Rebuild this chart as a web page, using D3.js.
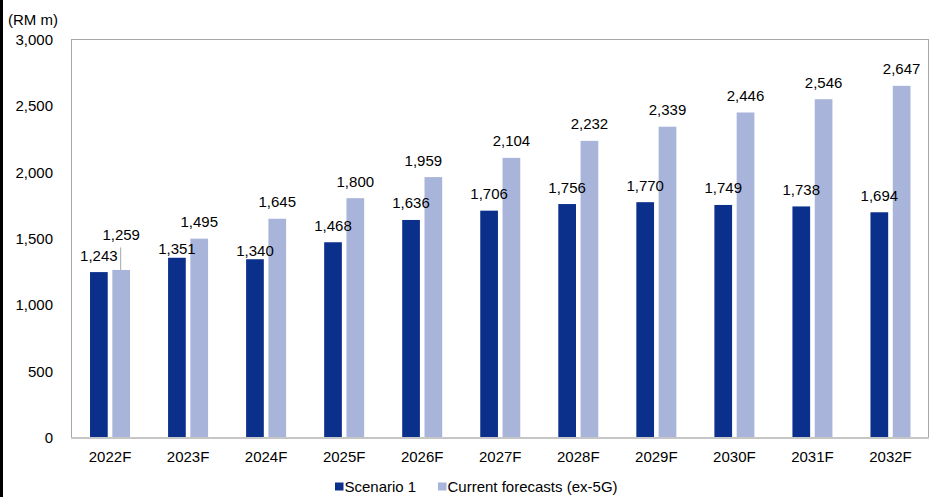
<!DOCTYPE html>
<html>
<head>
<meta charset="utf-8">
<script src="https://cdn.jsdelivr.net/npm/d3@7"></script>
<style>
  html, body { margin: 0; padding: 0; background: #fff; }
  svg { display: block; font-family: "Liberation Sans", Arial, sans-serif; }
</style>
</head>
<body>
<svg id="chart" width="938" height="497"></svg>
<script>
// ---- data ----
const categories = ["2022F","2023F","2024F","2025F","2026F","2027F","2028F","2029F","2030F","2031F","2032F"];
const scenario1 = [1243, 1351, 1340, 1468, 1636, 1706, 1756, 1770, 1749, 1738, 1694];
const currentForecasts = [1259, 1495, 1645, 1800, 1959, 2104, 2232, 2339, 2446, 2546, 2647];
const yTicks = [0, 500, 1000, 1500, 2000, 2500, 3000];
const seriesNames = ["Scenario 1", "Current forecasts (ex-5G)"];
const unitLabel = "(RM m)";

// ---- layout / style ----
const colors = ["#0b308c", "#a8b4da"];
const plot = { left: 71, right: 928, top: 39, bottom: 437 };
const barW = 17.7, barGap = 4.6;
const fontSize = 15;
// manual label adjustments (layout only): [series][index] -> {dx, dy}
const labelAdjust = {
  "0-1": { dy: 8 }, "0-2": { dy: 8 },
  "1-0": { dy: -18, leader: true },
  "1-4": { dx: -10 }
};

const svg = d3.select("#chart");
svg.append("rect").attr("x", 0).attr("y", 0).attr("width", 3).attr("height", 497).attr("fill", "#000");

const x = d3.scaleBand().domain(categories).range([plot.left, plot.right + 1.5]).paddingInner(0).paddingOuter(0);
const y = d3.scaleLinear().domain([0, 3000]).range([plot.bottom, plot.top]);

// frame
svg.append("rect")
  .attr("x", plot.left + 0.5).attr("y", plot.top + 0.5)
  .attr("width", plot.right - plot.left).attr("height", plot.bottom - plot.top)
  .attr("fill", "none").attr("stroke", "#a6a6a6").attr("stroke-width", 1);

// y axis
const yAxis = d3.axisLeft(y).tickValues(yTicks).tickSize(0).tickPadding(0)
  .tickFormat(d3.format(","));
const gy = svg.append("g").attr("transform", `translate(53,0)`).call(yAxis);
gy.select(".domain").remove();
gy.selectAll("text").attr("font-size", fontSize).attr("fill", "#000")
  .attr("font-family", "Liberation Sans, Arial, sans-serif").attr("dy", "0.36em");

svg.append("text").attr("x", 8).attr("y", 25).attr("font-size", fontSize).attr("fill", "#000").text(unitLabel);

// bars
const series = [scenario1, currentForecasts];
series.forEach((vals, s) => {
  svg.append("g").selectAll("rect").data(vals).join("rect")
    .attr("x", (d, i) => {
      const cx = x(categories[i]) + x.bandwidth() / 2;
      return s === 0 ? cx - barGap / 2 - barW : cx + barGap / 2;
    })
    .attr("y", d => y(d))
    .attr("width", barW)
    .attr("height", d => y(0) - y(d))
    .attr("fill", colors[s]);
});

// bottom axis line
svg.append("line").attr("x1", plot.left).attr("x2", plot.right + 1)
  .attr("y1", plot.bottom + 1).attr("y2", plot.bottom + 1)
  .attr("stroke", "#c6c6c6").attr("stroke-width", 2);

// x axis labels
const xAxis = d3.axisBottom(x).tickSize(0).tickPadding(0);
const gx = svg.append("g").attr("transform", `translate(0,${plot.bottom})`).call(xAxis);
gx.select(".domain").remove();
gx.selectAll("text").attr("font-size", fontSize).attr("fill", "#000")
  .attr("font-family", "Liberation Sans, Arial, sans-serif").attr("dy", null).attr("y", 24.5);

// data labels
const fmt = d3.format(",");
series.forEach((vals, s) => {
  vals.forEach((d, i) => {
    const cx = x(categories[i]) + x.bandwidth() / 2;
    const bx = s === 0 ? cx - barGap / 2 - barW / 2 : cx + barGap / 2 + barW / 2;
    const adj = labelAdjust[`${s}-${i}`] || {};
    const ty = y(d) - 11.5 + (adj.dy || 0);
    const tx = bx + (adj.dx || 0);
    if (adj.leader) {
      svg.append("line").attr("x1", bx - 0.5).attr("x2", bx - 0.5)
        .attr("y1", ty + 7).attr("y2", y(d))
        .attr("stroke", "#a6a6a6").attr("stroke-width", 1);
    }
    svg.append("text").attr("x", tx).attr("y", ty)
      .attr("text-anchor", "middle").attr("font-size", fontSize).attr("fill", "#000")
      .text(fmt(d));
  });
});

// legend
const legendItems = [{ x: 335 }, { x: 438 }];
seriesNames.forEach((name, s) => {
  const g = svg.append("g").attr("transform", `translate(${legendItems[s].x},0)`);
  g.append("rect").attr("x", 0).attr("y", 482.5).attr("width", 8.5).attr("height", 8).attr("fill", colors[s]);
  g.append("text").attr("x", 9.5).attr("y", 491.5).attr("font-size", fontSize).attr("fill", "#000").text(name);
});
</script>
</body>
</html>
